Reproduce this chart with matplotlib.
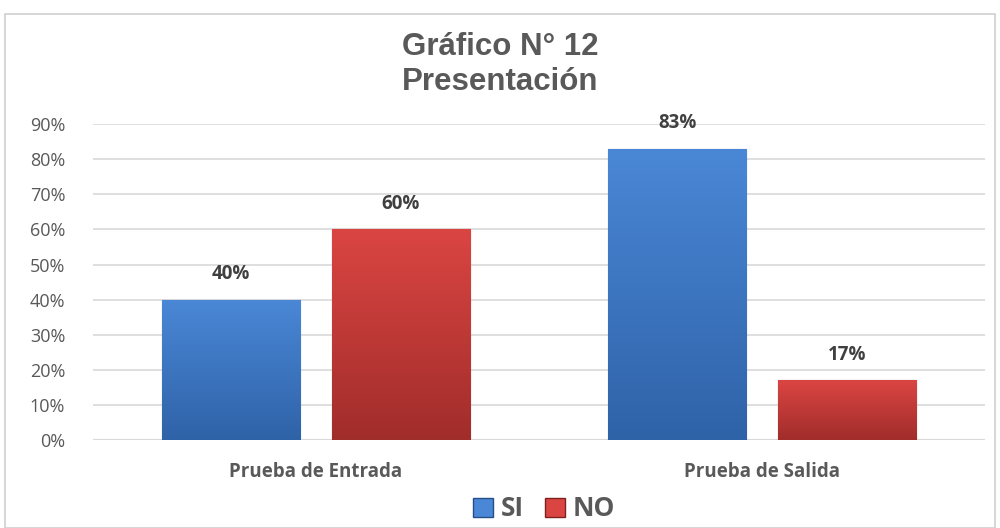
import numpy as np
import matplotlib.pyplot as plt
from matplotlib.patches import Rectangle
from matplotlib.colors import LinearSegmentedColormap

categories = ['Prueba de Entrada', 'Prueba de Salida']
series = ['SI', 'NO']
values = {'SI': [0.40, 0.83], 'NO': [0.60, 0.17]}
labels = {'SI': ['40%', '83%'], 'NO': ['60%', '17%']}
yticks = [0, 0.1, 0.2, 0.3, 0.4, 0.5, 0.6, 0.7, 0.8, 0.9]

colors = {'SI': ('#4a87d6', '#2f63a8'), 'NO': ('#da4542', '#a12d2b')}
edges = {'SI': '#254f86', 'NO': '#7d2220'}

TEXT = '#595959'
BODY = ['Open Sans', 'DejaVu Sans']
HEAD = ['Liberation Sans', 'DejaVu Sans']

fig = plt.figure(figsize=(10, 5.28), dpi=100)
fig.patches.append(Rectangle((0.005, 0.0), 0.99, 0.973, transform=fig.transFigure,
                             fill=False, edgecolor='#d0d0d0', lw=1.2))
ax = fig.add_axes([0.093, 0.1667, 0.892, 0.598])

x = np.arange(len(categories))
width = 0.31
offsets = {'SI': -0.19, 'NO': 0.19}

for s in series:
    cmap = LinearSegmentedColormap.from_list(s, [colors[s][1], colors[s][0]])
    bars = ax.bar(x + offsets[s], values[s], width, color=colors[s][0],
                  edgecolor=edges[s], lw=0.8, zorder=3)
    for b, lab in zip(bars, labels[s]):
        x0, y0 = b.get_x(), b.get_y()
        w, h = b.get_width(), b.get_height()
        grad = np.linspace(0, 1, 100).reshape(-1, 1)
        im = ax.imshow(grad, cmap=cmap, origin='lower', aspect='auto',
                       extent=(x0, x0 + w, y0, y0 + h), zorder=3.5)
        im.set_clip_path(b)
        ax.text(x0 + w / 2, h + 0.045, lab, ha='center', va='bottom',
                fontsize=13.5, fontweight='bold', color='#404040', family=BODY)

ax.set_xlim(-0.5, 1.5)
ax.set_ylim(0, 0.9)
ax.set_yticks(yticks)
ax.set_yticklabels([f'{int(round(t * 100))}%' for t in yticks],
                   fontsize=13, color=TEXT, family=BODY)
ax.set_xticks(x)
ax.set_xticklabels(categories, fontsize=13.5, fontweight='bold', color=TEXT, family=BODY)
ax.tick_params(axis='y', length=0, pad=20)
ax.tick_params(axis='x', length=0, pad=16)
ax.grid(axis='y', color='#d9d9d9', lw=1.2, zorder=0)
for sp in ax.spines.values():
    sp.set_visible(False)
ax.axhline(0, color='#d9d9d9', lw=1.5, zorder=1)

fig.text(0.5, 0.896, 'Gráfico N° 12', ha='center', va='baseline', fontsize=22.5,
         fontweight='bold', color=TEXT, family=HEAD)
fig.text(0.5, 0.830, 'Presentación', ha='center', va='baseline', fontsize=22.5,
         fontweight='bold', color=TEXT, family=HEAD)

handles = [Rectangle((0, 0), 1, 1, facecolor=colors[s][0], edgecolor=edges[s]) for s in series]
leg = fig.legend(handles, series, loc='center', bbox_to_anchor=(0.544, 0.036), ncol=2,
                 frameon=False, handlelength=0.75, handleheight=0.75, handletextpad=0.3,
                 columnspacing=0.8, prop={'family': BODY, 'weight': 'bold', 'size': 19})
for t in leg.get_texts():
    t.set_color(TEXT)

fig.savefig('out.png', dpi=100)
